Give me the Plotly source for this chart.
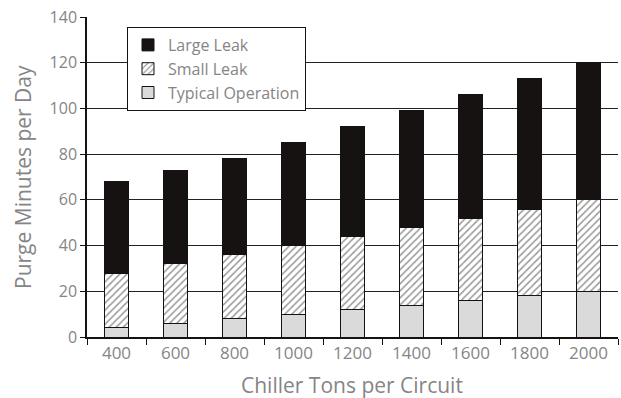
import plotly.graph_objects as go

categories = ["400", "600", "800", "1000", "1200", "1400", "1600", "1800", "2000"]
typical_operation = [4, 6, 8, 10, 12, 14, 16, 18, 20]
small_leak = [24, 26, 28, 30, 32, 34, 36, 38, 40]
large_leak = [40, 41, 42, 45, 48, 51, 54, 57, 60]
y_ticks = [0, 20, 40, 60, 80, 100, 120, 140]

FONT = "Open Sans"
GREY = "#858585"
INK = "#161212"

W, H = 621, 398
ML, MR, MT, MB = 87, 3, 17, 61
PW = W - ML - MR
PH = H - MT - MB

fig = go.Figure()
fig.add_trace(go.Bar(
    x=categories, y=typical_operation, name="Typical Operation", legendrank=3,
    marker=dict(color="#dadada", line=dict(color=INK, width=1)),
))
fig.add_trace(go.Bar(
    x=categories, y=small_leak, name="Small Leak", legendrank=2,
    marker=dict(color="white", line=dict(color=INK, width=1),
                pattern=dict(shape="/", fgcolor="#333333", bgcolor="white",
                             size=5, solidity=0.3)),
))
fig.add_trace(go.Bar(
    x=categories, y=large_leak, name="Large Leak", legendrank=1,
    marker=dict(color=INK, line=dict(color=INK, width=1)),
))

fig.update_layout(
    width=W, height=H,
    margin=dict(l=ML, r=MR, t=MT, b=MB),
    barmode="stack", bargap=0.59,
    paper_bgcolor="white", plot_bgcolor="white",
    font=dict(family=FONT, color=GREY, size=16),
    showlegend=True,
    legend=dict(
        x=(127 - ML) / PW, y=(PH + MT - 27) / PH, xanchor="left", yanchor="top",
        traceorder="normal",
        entrywidth=176, entrywidthmode="pixels",
        bgcolor="white", bordercolor=INK, borderwidth=1,
        font=dict(family=FONT, size=16, color=GREY),
    ),
    xaxis=dict(
        type="category", automargin=False,
        showline=True, linecolor=INK, linewidth=1.5,
        ticks="outside", tickson="boundaries", ticklen=6, tickcolor=INK,
        showgrid=False,
        tickfont=dict(size=17, color=GREY),
    ),
    yaxis=dict(
        range=[0, 140.01], tickvals=y_ticks, automargin=False,
        ticklabeloverflow="allow",
        showline=True, linecolor=INK, linewidth=1.5,
        ticks="outside", ticklen=5, tickcolor=INK,
        showgrid=True, gridcolor="#222222", gridwidth=1,
        zeroline=False,
        tickfont=dict(size=16, color=GREY),
    ),
    annotations=[
        dict(text="Chiller Tons per Circuit", xref="paper", yref="paper",
             x=(352 - ML) / PW, y=-(385 - MT - PH) / PH, xanchor="center", yanchor="middle",
             showarrow=False, font=dict(size=21, color=GREY)),
        dict(text="Purge Minutes per Day", xref="paper", yref="paper",
             x=(23 - ML) / PW, y=0.5, xanchor="center", yanchor="middle",
             textangle=-90, showarrow=False, font=dict(size=21, color=GREY)),
    ],
)

# remove the browser's default 8px body margin so the figure sits at the page origin
fig.write_html("out.html", config={"displayModeBar": False},
               post_script="document.body.style.margin='0px';")
